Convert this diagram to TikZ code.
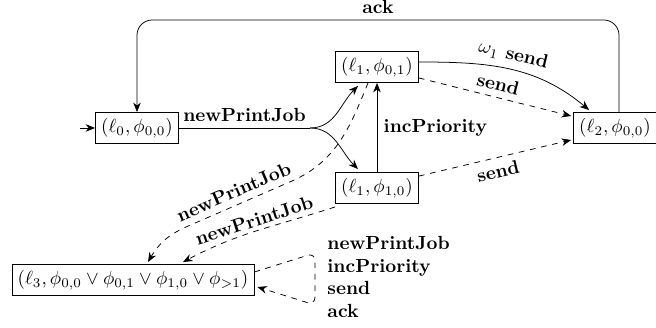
\documentclass[tikz,border=0pt]{standalone}
\usetikzlibrary{arrows.meta,calc}
\begin{document}
\begin{tikzpicture}[x=0.526pt,y=-0.526pt,
  st/.style={draw,inner sep=3pt},
  lbl/.style={font=\bfseries},
  tr/.style={-{Stealth[length=5pt,width=4pt]}},
  dtr/.style={tr,dashed}]
\useasboundingbox (0,0) rectangle (656,328);
\node[st] (l0) at (137,128) {$(\ell_0,\phi_{0,0})$};
\node[st] (l1a) at (377,67) {$(\ell_1,\phi_{0,1})$};
\node[st] (l1b) at (377,188) {$(\ell_1,\phi_{1,0})$};
\node[st] (l2) at (615,128) {$(\ell_2,\phi_{0,0})$};
\node[st] (l3) at (133,280) {$(\ell_3,\phi_{0,0}\vee\phi_{0,1}\vee\phi_{1,0}\vee\phi_{>1})$};
\coordinate (init) at (80,128);
\coordinate (split) at (310,128);
\coordinate (ta) at (619,20);
\coordinate (tb) at (137,20);
\coordinate (c1) at (292,181);
\coordinate (c2) at (186,227);
\coordinate (lp1) at (315,253);
\coordinate (lp2) at (315,305);
% initial
\draw[tr] (init) -- (l0);
% ack
\draw[tr,rounded corners=8pt] ($(l2.north)+(4,0)$) -- (ta) -- (tb) -- (l0.north);
\path (ta) -- (tb) node[midway,above,lbl,inner sep=3pt] {ack};
% newPrintJob split
\draw (l0) -- (split) node[midway,above,lbl] {newPrintJob};
\draw[tr] (split) to[out=0,in=-135] ($(l1a.south)+(-19,3)$);
\draw[tr] (split) to[out=0,in=135] ($(l1b.north)+(-19,-3)$);
% incPriority
\draw[tr] (l1b.north) -- (l1a.south) node[midway,right,lbl] {incPriority};
% sends
\draw[tr] ($(l1a.east)+(0,-5)$) to[out=0,in=140] node[pos=0.5,above,sloped,lbl] {$\omega_1$ send} ($(l2.north west)+(16,-2)$);
\draw[dtr] ($(l1a.east)+(0,11)$) -- ($(l2.west)+(-2,-12)$) node[midway,above,sloped,lbl] {send};
\draw[dtr] ($(l1b.north east)+(0,4)$) -- ($(l2.west)+(-2,12)$) node[midway,below,sloped,lbl] {send};
% newPrintJob to l3
\draw[dtr] ($(l1a.south)+(-9,0)$) to[out=-112,in=24] (c1) -- (c2) to[out=-156,in=60] ($(l3.north)+(15,-2)$);
\path (c2) -- (c1) node[midway,above,sloped,lbl] {newPrintJob};
\draw[dtr] ($(l1b.south west)+(0,3)$) to[out=-162,in=28] ($(l3.north)+(50,-2)$);
\path ($(l3.north)+(50,-2)$) to[out=28,in=-162] node[pos=0.5,above,sloped,lbl,inner sep=2pt] {newPrintJob} ($(l1b.south west)+(0,3)$);
% self loop
\draw[dtr,rounded corners=4pt] ($(l3.east)+(0,-8)$) -- (lp1) -- (lp2) -- ($(l3.east)+(3,7)$);
\node[lbl,align=left,anchor=west,inner sep=0pt] (ll) at (327,277) {newPrintJob\\incPriority\\send\\ack};
\end{tikzpicture}
\end{document}
